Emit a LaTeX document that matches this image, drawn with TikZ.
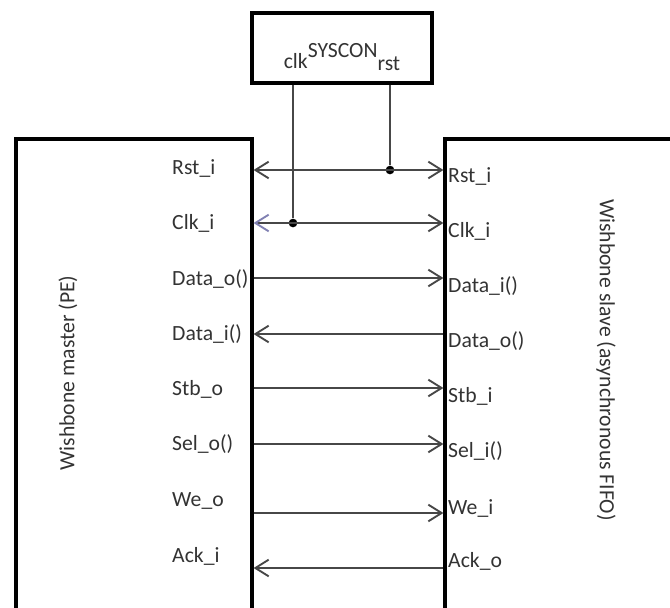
\documentclass[tikz,border=0pt]{standalone}
\usepackage{fontspec}
\setmainfont{Carlito}
\usetikzlibrary{arrows.meta,positioning,calc}

\begin{document}
\begin{tikzpicture}[x=0.03cm,y=-0.03cm,
blk/.style={draw=black,line width=2.7pt,inner sep=0pt},
sig/.style={font=\fontsize{18.5}{21}\selectfont,inner sep=0pt,text=black!80},
wire/.style={draw=black!72,line width=1.6pt},
arr/.style={wire,-{Straight Barb[length=4mm,width=5mm]}},
rarr/.style={wire,{Straight Barb[length=4mm,width=5mm]}-},
dot/.style={circle,fill=black,inner sep=0pt,minimum size=2.6mm}]
\clip (0,0) rectangle (670,607);
\node[blk,minimum width=5.4cm,minimum height=2.1cm] (syscon) at (342,48) {};
\node[sig,anchor=base] (sysname) at (342,68) {clk\raisebox{0.5em}{SYSCON}\raisebox{-0.1em}{rst}};
\node[blk,minimum width=7.08cm,minimum height=15.03cm] (master) at (134,389.5) {};
\node[blk,minimum width=8.25cm,minimum height=15.03cm] (slave) at (582.5,389.5) {};
\node[sig,rotate=90] (mname) at (68,373) {Wishbone master (PE)};
\node[sig,rotate=-90] (sname) at (606,360) {Wishbone slave (asynchronous FIFO)};
% master side
\node[sig,anchor=base west] (mrst) at (172,174) {Rst\_i};
\node[sig,anchor=base west] (mclk) at (172,229) {Clk\_i};
\node[sig,anchor=base west] (mdato) at (172,285) {Data\_o()};
\node[sig,anchor=base west] (mdati) at (172,340) {Data\_i()};
\node[sig,anchor=base west] (mstb) at (172,395) {Stb\_o};
\node[sig,anchor=base west] (msel) at (172,450) {Sel\_o()};
\node[sig,anchor=base west] (mwe) at (172,506) {We\_o};
\node[sig,anchor=base west] (mack) at (172,562) {Ack\_i};
% slave side
\node[sig,anchor=base west] (srst) at (448,182) {Rst\_i};
\node[sig,anchor=base west] (sclk) at (448,237) {Clk\_i};
\node[sig,anchor=base west] (sdati) at (448,292) {Data\_i()};
\node[sig,anchor=base west] (sdato) at (448,347) {Data\_o()};
\node[sig,anchor=base west] (sstb) at (448,402) {Stb\_i};
\node[sig,anchor=base west] (ssel) at (448,457) {Sel\_i()};
\node[sig,anchor=base west] (swe) at (448,514) {We\_i};
\node[sig,anchor=base west] (sack) at (448,567) {Ack\_o};
% syscon taps
\node[dot] (rstdot) at (390,170) {};
\node[dot] (clkdot) at (293,223) {};
\draw[wire,line width=1.3pt] (syscon.south -| rstdot) -- (rstdot);
\draw[wire,line width=1.3pt] (syscon.south -| clkdot) -- (clkdot);
% signals
\draw[wire,{Straight Barb[length=4mm,width=5mm]}-{Straight Barb[length=4mm,width=5mm]}] (master.east |- rstdot) -- (slave.west |- rstdot);
\draw[wire,{Straight Barb[length=4mm,width=5mm,color=blue!25!gray!80]}-{Straight Barb[length=4mm,width=5mm]}] (master.east |- clkdot) -- (slave.west |- clkdot);
\draw[arr] (master.east |- 0,278) -- (slave.west |- 0,278);
\draw[rarr] (master.east |- 0,334) -- (slave.west |- 0,334);
\draw[arr] (master.east |- 0,388) -- (slave.west |- 0,388);
\draw[arr] (master.east |- 0,444) -- (slave.west |- 0,444);
\draw[arr] (master.east |- 0,513) -- (slave.west |- 0,513);
\draw[rarr] (master.east |- 0,568) -- (slave.west |- 0,568);
\end{tikzpicture}
\end{document}
